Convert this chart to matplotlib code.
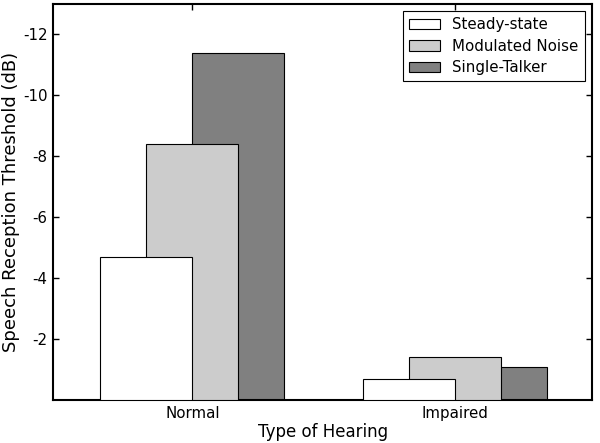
import matplotlib
matplotlib.use("Agg")
import matplotlib.pyplot as plt
import numpy as np
from matplotlib.ticker import FuncFormatter

plt.rcParams["font.family"] = ["DejaVu Sans"]

groups = ["Normal", "Impaired"]
series = ["Steady-state", "Modulated Noise", "Single-Talker"]
steady = [-4.7, -0.7]
modulated = [-8.4, -1.4]
single = [-11.4, -1.1]
colors = ["#ffffff", "#cccccc", "#808080"]
yticks = [-2, -4, -6, -8, -10, -12]

fig = plt.figure(figsize=(6.0, 4.43), dpi=100)
ax = fig.add_axes([0.0883, 0.097, 0.8987, 0.894])

x = np.arange(len(groups))
width = 0.35
offsets = [-width / 2, 0.0, width / 2]
values = [steady, modulated, single]
zorders = [4, 3, 2]

handles = []
for vals, off, col, name, z in zip(values, offsets, colors, series, zorders):
    b = ax.bar(x + off, vals, width, color=col, edgecolor="black",
               linewidth=0.8, label=name, zorder=z)
    handles.append(b)

ax.set_xlim(-0.53, 1.52)
ax.set_ylim(0, -13)
ax.set_xticks(x)
ax.set_xticklabels(groups)
ax.set_yticks(yticks)
ax.yaxis.set_major_formatter(FuncFormatter(lambda v, p: "%d" % v))
ax.tick_params(axis="both", direction="in", length=4.5, width=1.0,
               top=True, right=True, labelsize=10.8, pad=4)
for s in ax.spines.values():
    s.set_linewidth(1.5)

ax.set_xlabel("Type of Hearing", fontsize=12, labelpad=2)
ax.set_ylabel("Speech Reception Threshold (dB)", fontsize=13)
ax.yaxis.set_label_coords(-0.062, 0.5)

leg = ax.legend(handles=handles, labels=series, loc="upper right",
                fontsize=10.8, fancybox=False, edgecolor="black",
                framealpha=1, borderaxespad=0.5, handlelength=2.1,
                labelspacing=0.42)
leg.get_frame().set_linewidth(0.8)

fig.savefig("out.png", dpi=100)
